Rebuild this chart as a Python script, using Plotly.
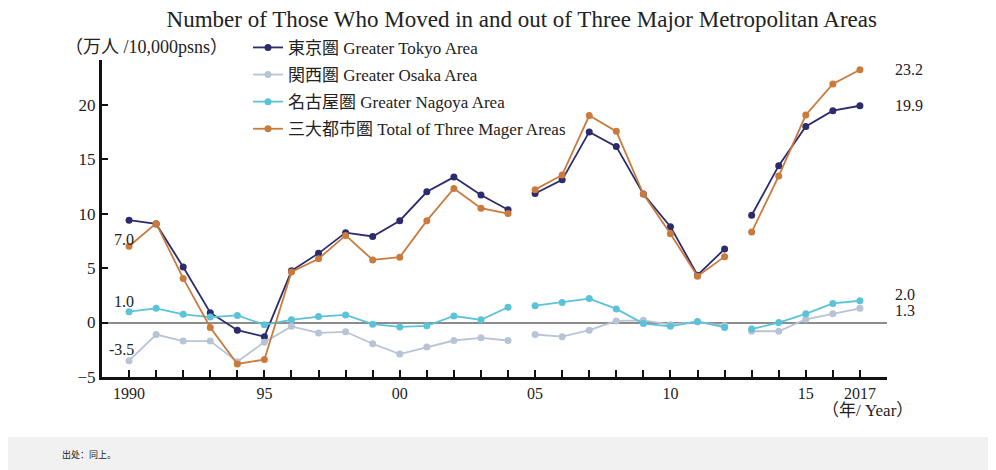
import plotly.graph_objects as go

years = list(range(1990, 2018))
breaks = [2005, 2013]  # lines are interrupted before these years

tokyo = [9.4, 9.05, 5.1, 0.9, -0.7, -1.3, 4.75, 6.35, 8.25, 7.9, 9.35, 12.0, 13.35, 11.7, 10.35,
         11.85, 13.1, 17.5, 16.15, 11.8, 8.8, 4.35, 6.75,
         9.85, 14.4, 18.0, 19.45, 19.9]
osaka = [-3.5, -1.1, -1.7, -1.7, -3.6, -1.8, -0.35, -0.95, -0.85, -1.95, -2.9, -2.25, -1.65, -1.4, -1.65,
         -1.1, -1.3, -0.7, 0.15, 0.2, -0.2, 0.05, -0.3,
         -0.8, -0.8, 0.3, 0.8, 1.3]
nagoya = [1.0, 1.3, 0.75, 0.5, 0.65, -0.2, 0.25, 0.55, 0.7, -0.15, -0.4, -0.3, 0.6, 0.25, 1.4,
          1.55, 1.85, 2.2, 1.25, -0.1, -0.35, 0.1, -0.45,
          -0.6, 0.0, 0.8, 1.75, 2.0]
total = [7.0, 9.1, 4.05, -0.45, -3.8, -3.4, 4.65, 5.85, 8.0, 5.75, 6.0, 9.35, 12.3, 10.5, 10.0,
         12.2, 13.55, 19.0, 17.55, 11.8, 8.15, 4.25, 6.05,
         8.3, 13.45, 19.05, 21.9, 23.2]

names = ["東京圏 Greater Tokyo Area", "関西圏 Greater Osaka Area",
         "名古屋圏 Greater Nagoya Area", "三大都市圏 Total of Three Mager Areas"]
colors = ["#2c2b6c", "#b7c4d6", "#5cc2d8", "#c97a3c"]
series = [tokyo, osaka, nagoya, total]

tick_years = [1990, 1995, 2000, 2005, 2010, 2015, 2017]
tick_labels = ["1990", "95", "00", "05", "10", "15", "2017"]

title = "Number of Those Who Moved in and out of Three Major Metropolitan Areas"
unit = "（万人 /10,000psns）"
xunit = "（年/ Year）"
source = "出处：同上。"

SERIF = "Liberation Serif, Noto Sans CJK JP, serif"


def with_gaps(xs, ys):
    ox, oy = [], []
    for x, y in zip(xs, ys):
        if x in breaks:
            ox.append(None)
            oy.append(None)
        ox.append(x)
        oy.append(y)
    return ox, oy


fig = go.Figure()
for name, col, ys, grp in zip(names, colors, series, ["a", "b", "c", "d"]):
    gx, gy = with_gaps(years, ys)
    fig.add_trace(go.Scatter(
        x=gx, y=gy, name=name, mode="lines+markers", connectgaps=False,
        legendgroup=grp,
        line=dict(color=col, width=1.8),
        marker=dict(color=col, size=7),
    ))

tickvals = years
ticktext = [tick_labels[tick_years.index(y)] if y in tick_years else "" for y in years]

# value labels
ann = []
left_labels = [(total, -5, 7), (nagoya, -5, 10), (osaka, -8, 11)]
for ys, xs, ys_shift in left_labels:
    ann.append(dict(x=years[0], y=ys[0], text=f"{ys[0]:.1f}", showarrow=False,
                    xanchor="center", yanchor="middle", xshift=xs, yshift=ys_shift,
                    font=dict(family=SERIF, size=16, color="#222")))
right_labels = [(total, 0), (tokyo, 0), (nagoya, 6), (osaka, -2)]
for ys, shift in right_labels:
    ann.append(dict(x=years[-1], y=ys[-1], text=f"{ys[-1]:.1f}", showarrow=False,
                    xanchor="left", yanchor="middle", xshift=33, yshift=shift,
                    font=dict(family=SERIF, size=16, color="#222")))

fig.update_layout(
    width=988, height=462,
    margin=dict(l=94, r=109, t=52, b=93),
    paper_bgcolor="white", plot_bgcolor="white",
    showlegend=True,
    legend=dict(x=0.186, y=1.095, xanchor="left", yanchor="top",
                bgcolor="rgba(0,0,0,0)", font=dict(family=SERIF, size=17, color="#222"),
                traceorder="grouped", tracegroupgap=2, itemwidth=30),
    title=dict(text=title, x=0.52, xanchor="center", y=0.977, yanchor="middle",
               font=dict(family=SERIF, size=23, color="#222")),
    annotations=ann + [
        dict(xref="paper", yref="paper", x=-0.05, y=1.041, text=unit, showarrow=False,
             xanchor="left", yanchor="middle", font=dict(family=SERIF, size=18, color="#222")),
        dict(xref="paper", yref="paper", x=1.036, y=-0.107, text=xunit, showarrow=False,
             xanchor="right", yanchor="middle", font=dict(family=SERIF, size=17, color="#222")),
        dict(xref="paper", yref="paper", x=-0.0535, y=-0.245, text=source, showarrow=False,
             xanchor="left", yanchor="middle",
             font=dict(family="Noto Sans CJK SC", size=9, color="#222")),
    ],
    shapes=[
        dict(type="rect", xref="paper", yref="paper", x0=-0.2, x1=1.2, y0=-0.32, y1=-0.189,
             fillcolor="#f1f1f1", line=dict(width=0), layer="below"),
    ],
    xaxis=dict(range=[1989, 2018], tickvals=tickvals, ticktext=ticktext,
               showgrid=False, zeroline=False, showline=True, linecolor="#111", linewidth=3,
               ticks="inside", ticklen=7, tickwidth=1.5, tickcolor="#111",
               tickfont=dict(family=SERIF, size=16, color="#222")),
    yaxis=dict(range=[-5, 24.1], tickvals=[-5, 0, 5, 10, 15, 20],
               showgrid=False, zeroline=True, zerolinecolor="#8c8c8c", zerolinewidth=2,
               showline=True, linecolor="#111", linewidth=3,
               ticks="inside", ticklen=6, tickwidth=1.5, tickcolor="#111",
               tickfont=dict(family=SERIF, size=17, color="#222")),
)

fig.write_html("out.html")
